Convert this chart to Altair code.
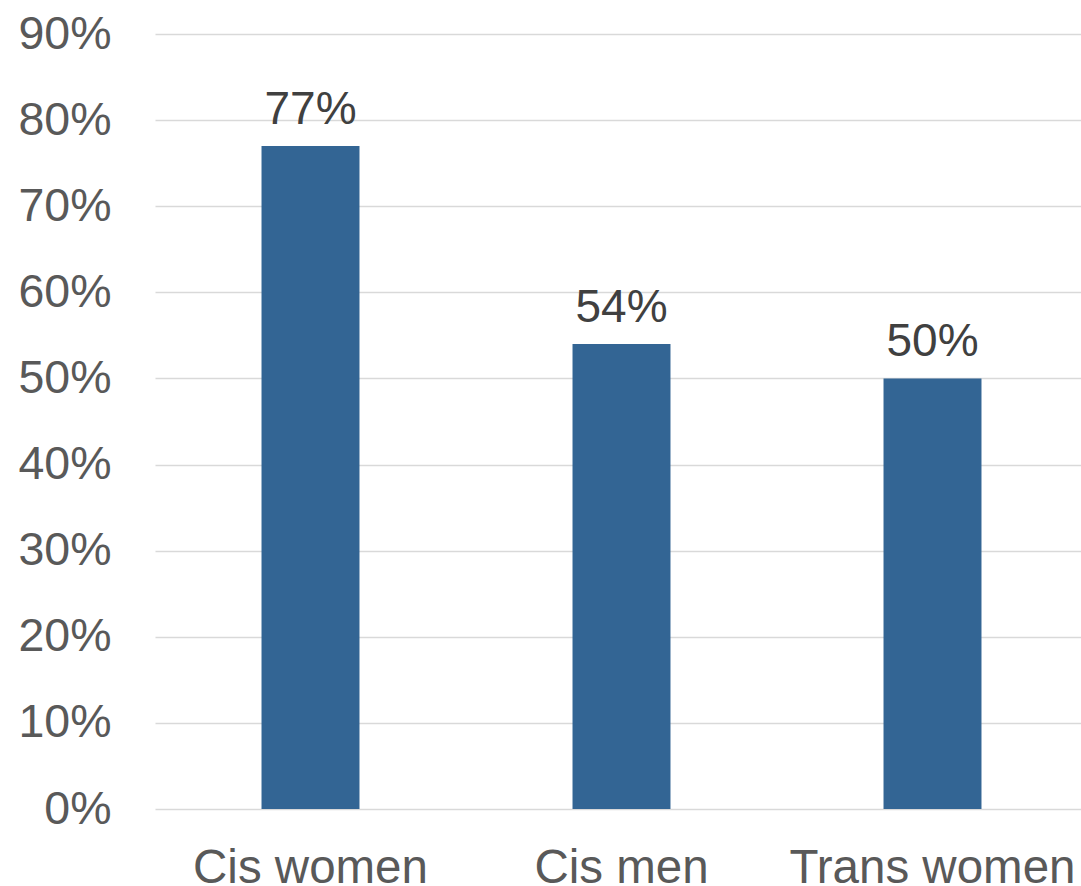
import altair as alt
import pandas as pd

categories = ["Cis women", "Cis men", "Trans women"]
values = [0.77, 0.54, 0.50]
labels = ["77%", "54%", "50%"]

df = pd.DataFrame({"group": categories, "value": values, "label": labels})

FONT = "Liberation Sans"

base = alt.Chart(df).encode(
    x=alt.X(
        "group:N",
        sort=categories,
        title=None,
        scale=alt.Scale(range=[0, 933], paddingInner=0.685, paddingOuter=0.3425),
        axis=alt.Axis(
            labelAngle=0, labelFont=FONT, labelFontSize=47.5, labelColor="#595959",
            ticks=False, domain=False, labelPadding=35, grid=False, labelLimit=600,
        ),
    ),
    y=alt.Y(
        "value:Q",
        title=None,
        scale=alt.Scale(domain=[0, 0.9], nice=False),
        axis=alt.Axis(
            format=".0%", values=[i / 10 for i in range(10)],
            labelFont=FONT, labelFontSize=46.5, labelColor="#595959",
            ticks=False, domain=False, labelPadding=44,
            gridColor="#d9d9d9", gridWidth=1.5,
        ),
    ),
)

bars = base.mark_bar(color="#336594")
text = base.mark_text(
    baseline="alphabetic", dy=-22, font=FONT, fontSize=46, color="#404040"
).encode(text="label:N")

chart = (bars + text).properties(
    width=926, height=775,
    background="white",
    autosize=alt.AutoSizeParams(type="none"),
    padding={"left": 155, "top": 34, "right": 0, "bottom": 77},
).configure_view(stroke=None)

chart.save("out.html", embed_options={"renderer": "svg", "actions": False})
